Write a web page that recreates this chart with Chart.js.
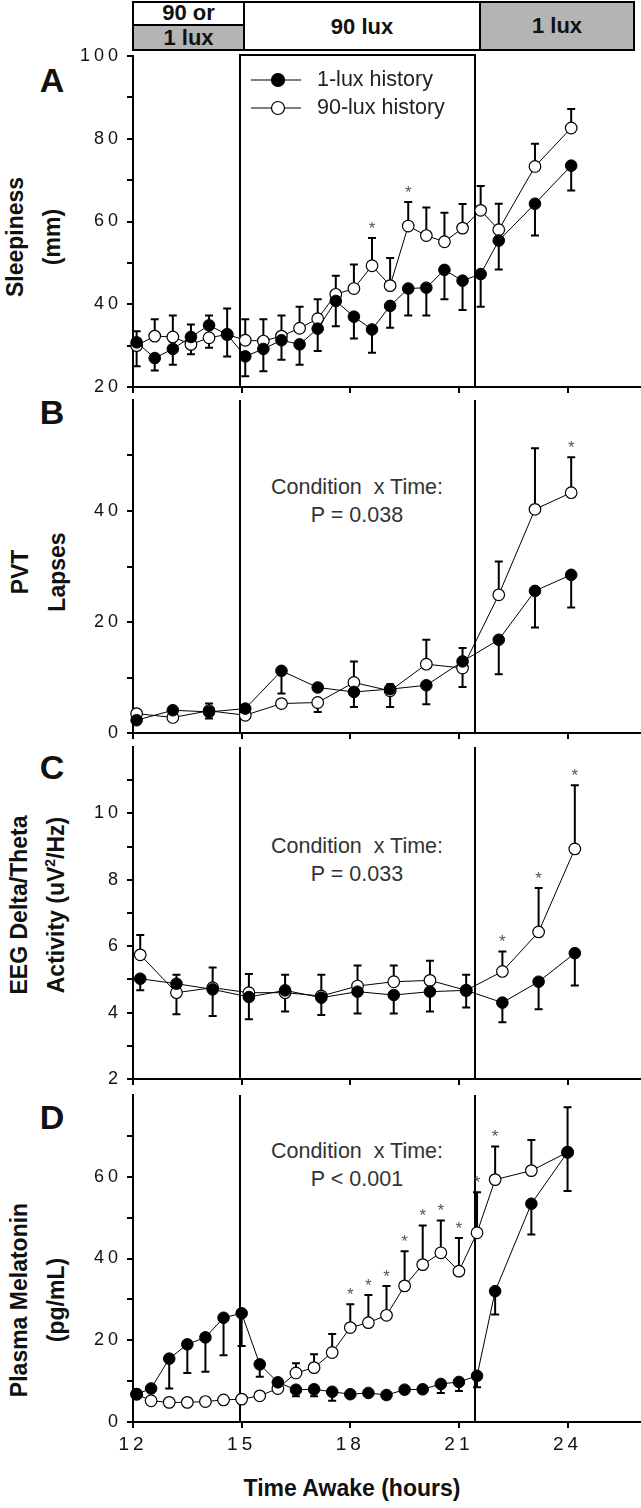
<!DOCTYPE html>
<html>
<head>
<meta charset="utf-8">
<script src="https://cdn.jsdelivr.net/npm/chart.js@4.4.0/dist/chart.umd.min.js"></script>
<style>
  body { margin: 0; background: #fff; width: 641px; height: 1508px; position: relative; overflow: hidden;
         font-family: "Liberation Sans", Arial, sans-serif; color: #111; }
  canvas.cv { position: absolute; left: 0; }
  .abs { position: absolute; white-space: nowrap; }
  .cell { position: absolute; box-sizing: border-box; border: 2px solid #000; font-weight: bold; font-size: 22px;
          text-align: center; overflow: hidden; }
  .gray { background: #b4b4b4; }
  .letter { position: absolute; font-weight: bold; font-size: 34px; transform: translate(-50%, -50%); }
  .ytitle { position: absolute; font-weight: bold; font-size: 23px; line-height: 37px; text-align: center;
            transform: translate(-50%, -50%) rotate(-90deg); white-space: nowrap; }
  .note { position: absolute; font-size: 21.5px; line-height: 28px; color: #333; text-align: center;
          transform: translate(-50%, 0); white-space: nowrap; }
</style>
</head>
<body>

<!-- light condition header -->
<div class="cell" style="left:132px;top:1px;width:113px;height:25px;line-height:20px;">90 or</div>
<div class="cell gray" style="left:132px;top:24px;width:113px;height:27px;line-height:24px;">1 lux</div>
<div class="cell" style="left:243px;top:1px;width:238px;height:50px;line-height:48px;">90 lux</div>
<div class="cell gray" style="left:479px;top:1px;width:156px;height:50px;line-height:46px;">1 lux</div>

<div class="letter" style="left:52px;top:80px;">A</div>
<div class="letter" style="left:52px;top:412px;">B</div>
<div class="letter" style="left:52px;top:767px;">C</div>
<div class="letter" style="left:52px;top:1117px;">D</div>

<div class="ytitle" style="left:34px;top:237px;">Sleepiness<br>(mm)</div>
<div class="ytitle" style="left:39px;top:572px;">PVT<br>Lapses</div>
<div class="ytitle" style="left:38px;top:905px;">EEG Delta/Theta<br>Activity (uV<sup style="font-size:14px;line-height:0">2</sup>/Hz)</div>
<div class="ytitle" style="left:38px;top:1300px;">Plasma Melatonin<br>(pg/mL)</div>

<div class="note" style="left:357px;top:473px;">Condition&nbsp; x Time:<br>P = 0.038</div>
<div class="note" style="left:357px;top:832px;">Condition&nbsp; x Time:<br>P = 0.033</div>
<div class="note" style="left:357px;top:1137px;">Condition&nbsp; x Time:<br>P &lt; 0.001</div>

<div class="abs" style="left:352px;top:1488px;transform:translate(-50%,-50%);font-weight:bold;font-size:23px;">Time Awake (hours)</div>

<script>
// light transitions (hours awake)
const lightSwitch = [14.95, 21.43];
const hourTicksMax = 24;

// A: sleepiness (mm)
const hoursA = [12.1, 12.6, 13.1, 13.6, 14.1, 14.6, 15.1, 15.6, 16.1, 16.6, 17.1, 17.6, 18.1, 18.6, 19.1, 19.6, 20.1, 20.6, 21.1, 21.6, 22.1, 23.1, 24.1];
const sleepDim = [30.8, 27.0, 29.2, 32.1, 34.9, 32.7, 27.4, 29.2, 31.3, 30.3, 34.1, 40.8, 37.0, 33.9, 39.6, 43.8, 44.0, 48.3, 45.7, 47.3, 55.4, 64.3, 73.5];
const sleepBright = [30.0, 32.3, 32.1, 30.3, 31.9, 32.7, 31.3, 31.1, 32.3, 34.2, 36.5, 42.4, 43.8, 49.3, 44.5, 58.9, 56.6, 55.1, 58.4, 62.7, 58.0, 73.3, 82.6];
const sleepDimBar = [33.5, 24.0, 25.4, 35.1, 37.3, 27.4, 22.6, 23.8, 26.6, 25.4, 28.7, 34.7, 31.7, 28.3, 34.3, 37.3, 37.3, 41.2, 38.6, 39.4, 48.4, 56.6, 67.5];
const sleepBrightBar = [25.0, 36.4, 37.3, 27.9, 29.5, 39.0, 36.4, 36.4, 37.3, 39.4, 41.2, 46.9, 49.6, 56.0, 51.2, 64.7, 63.4, 62.1, 64.2, 68.6, 64.3, 78.8, 87.2];
const sleepStars = [13, 15];

// B: PVT lapses
const hoursB = [12.1, 13.1, 14.1, 15.1, 16.1, 17.1, 18.1, 19.1, 20.1, 21.1, 22.1, 23.1, 24.1];
const pvtDim = [2.3, 4.1, 3.8, 4.4, 11.2, 8.2, 7.4, 7.9, 8.6, 12.9, 16.8, 25.6, 28.5];
const pvtBright = [3.5, 2.8, 4.0, 3.2, 5.3, 5.5, 9.1, 7.6, 12.4, 11.7, 24.9, 40.3, 43.3];
const pvtDimBar = [null, null, 2.6, null, 7.1, null, 4.7, 4.7, 5.2, 15.3, 10.6, 19.0, 22.6];
const pvtBrightBar = [null, null, 5.3, null, null, 3.8, 12.9, 8.8, 16.8, 8.3, 30.9, 51.3, 49.7];
const pvtStars = [12];

// C: EEG delta/theta activity
const hoursC = [12.2, 13.2, 14.2, 15.2, 16.2, 17.2, 18.2, 19.2, 20.2, 21.2, 22.2, 23.2, 24.2];
const eegDim = [5.02, 4.87, 4.70, 4.47, 4.67, 4.45, 4.63, 4.53, 4.63, 4.67, 4.30, 4.93, 5.79];
const eegBright = [5.74, 4.60, 4.75, 4.60, 4.60, 4.50, 4.80, 4.93, 4.97, 4.67, 5.24, 6.43, 8.93];
const eegDimBar = [4.67, 5.14, 3.90, 3.80, 4.03, 3.93, 3.97, 3.97, 4.03, 4.15, 3.71, 4.10, 4.82];
const eegBrightBar = [6.34, 3.95, 5.36, 5.16, 5.14, 5.14, 5.42, 5.42, 5.56, 5.14, 5.84, 7.75, 10.85];
const eegStars = [10, 11, 12];

// D: plasma melatonin (pg/mL)
const hoursD = [12.1, 12.5, 13, 13.5, 14, 14.5, 15, 15.5, 16, 16.5, 17, 17.5, 18, 18.5, 19, 19.5, 20, 20.5, 21, 21.5, 22, 23, 24];
const melDim = [6.8, 8.2, 15.5, 19.0, 20.7, 25.5, 26.6, 14.1, 9.7, 7.9, 8.0, 7.4, 6.8, 7.1, 6.6, 7.9, 8.0, 9.3, 9.8, 11.3, 32.0, 53.4, 66.0];
const melBright = [6.8, 5.2, 4.8, 4.8, 5.0, 5.4, 5.6, 6.4, 8.2, 12.0, 13.3, 17.0, 23.1, 24.3, 26.1, 33.3, 38.5, 41.4, 36.9, 46.3, 59.3, 61.5, 66.0];
const melDimBar = [null, null, 8.2, 12.0, 12.3, 16.3, 18.6, 11.1, null, 6.3, 6.3, 5.2, null, null, 5.6, null, null, 7.1, 7.6, 8.5, 26.3, 45.9, 56.5];
const melBrightBar = [null, null, null, null, null, null, null, null, null, 14.4, 16.6, 21.5, 28.8, 31.1, 33.3, 41.8, 48.1, 49.3, 45.0, 56.2, 67.4, 69.0, 77.0];
const melStars = [12, 13, 14, 15, 16, 17, 18, 19, 20];

const FONT = '"Liberation Sans", Arial, sans-serif';

function makePanel(p) {
  const cv = document.createElement('canvas');
  cv.className = 'cv';
  cv.width = 641;
  cv.height = p.canvasH;
  cv.style.top = p.canvasTop + 'px';
  document.body.appendChild(cv);

  const series = [
    { values: p.dim, tips: p.dimBar, stars: [] },
    { values: p.bright, tips: p.brightBar, stars: p.stars }
  ];

  const decor = {
    id: 'decor',
    beforeDraw(chart) {
      chart.ctx.letterSpacing = '4px';
    },
    beforeDatasetsDraw(chart) {
      const ctx = chart.ctx, x = chart.scales.x, y = chart.scales.y, a = chart.chartArea;
      ctx.save();
      ctx.letterSpacing = '0px';
      ctx.strokeStyle = '#000';
      ctx.lineWidth = 2;
      // light change lines
      lightSwitch.forEach(h => {
        const px = Math.round(x.getPixelForValue(h));
        ctx.beginPath();
        ctx.moveTo(px, a.top - (p.legend ? 2 : 0));
        ctx.lineTo(px, a.bottom);
        ctx.stroke();
      });
      if (p.legend) {
        const l = Math.round(x.getPixelForValue(lightSwitch[0]));
        const r = Math.round(x.getPixelForValue(lightSwitch[1]));
        ctx.beginPath();
        ctx.moveTo(l - 1, a.top - 1);
        ctx.lineTo(r + 1, a.top - 1);
        ctx.stroke();
      }
      // one-sided SEM bars
      series.forEach(s => {
        s.tips.forEach((t, i) => {
          if (t === null) return;
          const px = x.getPixelForValue(p.hours[i]);
          const y0 = y.getPixelForValue(s.values[i]);
          const y1 = y.getPixelForValue(t);
          ctx.beginPath();
          ctx.moveTo(px, y0);
          ctx.lineTo(px, y1);
          ctx.moveTo(px - 4, y1);
          ctx.lineTo(px + 4, y1);
          ctx.stroke();
        });
      });
      ctx.restore();
    },
    afterDatasetsDraw(chart) {
      const ctx = chart.ctx, x = chart.scales.x, y = chart.scales.y;
      ctx.save();
      ctx.letterSpacing = '0px';
      ctx.fillStyle = '#555';
      ctx.font = '17px ' + FONT;
      ctx.textAlign = 'center';
      ctx.textBaseline = 'middle';
      series.forEach(s => {
        s.stars.forEach(i => {
          const top = Math.max(s.tips[i] ?? s.values[i], s.values[i]);
          ctx.fillText('*', x.getPixelForValue(p.hours[i]), y.getPixelForValue(top) - 9);
        });
      });
      if (p.legend) {
        const rows = [['#000', '1-lux history', 44], ['#fff', '90-lux history', 72]];
        rows.forEach(([fill, label, ly]) => {
          ctx.strokeStyle = '#000';
          ctx.lineWidth = 1.2;
          ctx.beginPath();
          ctx.moveTo(251, ly);
          ctx.lineTo(301, ly);
          ctx.stroke();
          ctx.beginPath();
          ctx.arc(278, ly, 6.5, 0, Math.PI * 2);
          ctx.fillStyle = fill;
          ctx.fill();
          ctx.stroke();
          ctx.fillStyle = '#222';
          ctx.font = '21.5px ' + FONT;
          ctx.textAlign = 'left';
          ctx.fillText(label, 317, ly);
        });
      }
      ctx.restore();
    }
  };

  const axisGrid = { drawOnChartArea: false, drawTicks: true, tickLength: 6, color: '#000', lineWidth: 2 };
  const axisBorder = { display: true, color: '#000', width: 2 };

  return new Chart(cv, {
    type: 'line',
    data: {
      datasets: [
        {
          label: '1-lux history',
          data: p.hours.map((h, i) => ({ x: h, y: p.dim[i] })),
          borderColor: '#000', borderWidth: 1,
          pointBackgroundColor: '#000', pointBorderColor: '#000', pointBorderWidth: 1,
          pointRadius: 5.8, tension: 0, clip: false
        },
        {
          label: '90-lux history',
          data: p.hours.map((h, i) => ({ x: h, y: p.bright[i] })),
          borderColor: '#000', borderWidth: 1,
          pointBackgroundColor: '#fff', pointBorderColor: '#000', pointBorderWidth: 1.2,
          pointRadius: 5.8, tension: 0, clip: false
        }
      ]
    },
    options: {
      responsive: false,
      animation: false,
      devicePixelRatio: 1,
      layout: { autoPadding: false, padding: { left: 0, right: 1, top: p.padTop, bottom: 0 } },
      plugins: { legend: { display: false }, tooltip: { enabled: false } },
      scales: {
        x: {
          type: 'linear', min: 12, max: 26,
          afterBuildTicks(s) { s.ticks = s.ticks.filter(t => t.value <= hourTicksMax); },
          afterFit(s) { s.height = p.xH; s.paddingLeft = 0; s.paddingRight = 0; },
          ticks: {
            stepSize: 3, display: p.showX, autoSkip: false, maxRotation: 0,
            color: '#111', padding: 5, font: { size: 19, family: FONT }
          },
          grid: axisGrid,
          border: axisBorder
        },
        y: {
          min: p.yMin, max: p.yMax,
          afterFit(s) { s.width = 133; s.paddingTop = 0; s.paddingBottom = 0; },
          afterBuildTicks(s) { s.ticks = s.ticks.filter(t => t.value <= p.lastTick); },
          ticks: {
            stepSize: p.step, autoSkip: false, color: '#111', padding: 5,
            font: { size: 18, family: FONT },
            callback: v => (Math.round(v / p.step) % 2 === 0 ? v : '')
          },
          grid: axisGrid,
          border: axisBorder
        }
      }
    },
    plugins: [decor]
  });
}

makePanel({ canvasTop: 36, canvasH: 364, padTop: 20, xH: 13, showX: false, legend: true,
  yMin: 20, yMax: 100, step: 10, lastTick: 100,
  hours: hoursA, dim: sleepDim, bright: sleepBright, dimBar: sleepDimBar, brightBar: sleepBrightBar, stars: sleepStars });

makePanel({ canvasTop: 388, canvasH: 358, padTop: 12, xH: 13, showX: false, legend: false,
  yMin: 0, yMax: 60, step: 10, lastTick: 50,
  hours: hoursB, dim: pvtDim, bright: pvtBright, dimBar: pvtDimBar, brightBar: pvtBrightBar, stars: pvtStars });

makePanel({ canvasTop: 735, canvasH: 357, padTop: 12, xH: 13, showX: false, legend: false,
  yMin: 2, yMax: 12, step: 1, lastTick: 11,
  hours: hoursC, dim: eegDim, bright: eegBright, dimBar: eegDimBar, brightBar: eegBrightBar, stars: eegStars });

makePanel({ canvasTop: 1083, canvasH: 425, padTop: 12, xH: 86, showX: true, legend: false,
  yMin: 0, yMax: 80, step: 10, lastTick: 70,
  hours: hoursD, dim: melDim, bright: melBright, dimBar: melDimBar, brightBar: melBrightBar, stars: melStars });
</script>
</body>
</html>
